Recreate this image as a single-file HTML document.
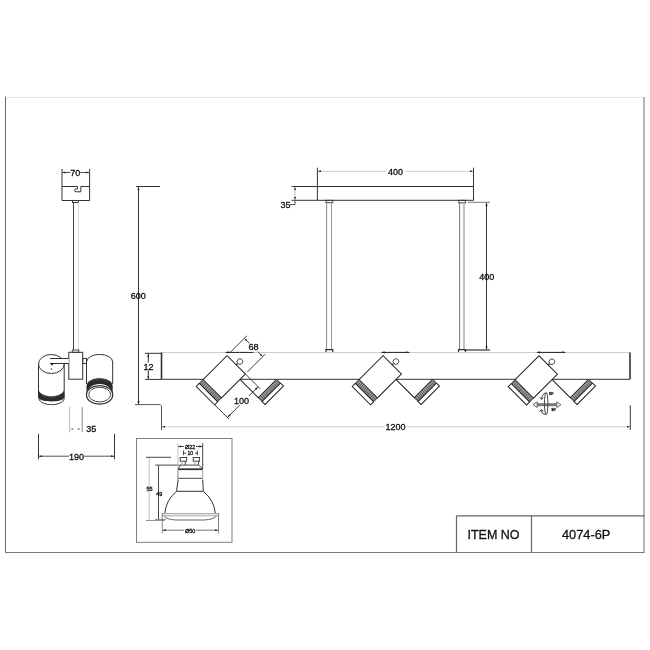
<!DOCTYPE html>
<html><head><meta charset="utf-8">
<style>
html,body{margin:0;padding:0;background:#fff;width:650px;height:650px;overflow:hidden}
svg{display:block;will-change:transform}
text{font-family:"Liberation Sans",sans-serif;fill:#111;stroke:#111;stroke-width:0.3}
</style></head>
<body>
<svg width="650" height="650" viewBox="0 0 650 650">
<defs>
  <marker id="ar" viewBox="0 0 6 4" refX="6" refY="2" markerWidth="3.2" markerHeight="2.2" markerUnits="userSpaceOnUse" orient="auto-start-reverse"><path d="M0 0 L6 2 L0 4z" fill="#222"/></marker>
  <g id="lampA">
    <rect x="-13" y="-17" width="26" height="34" fill="#fff" stroke="#1a1a1a" stroke-width="0.95"/>
    <rect x="-13" y="17" width="26" height="5.3" fill="#a0a0a0" stroke="#222" stroke-width="0.85"/>
    <line x1="-12.6" y1="19.65" x2="12.6" y2="19.65" stroke="#555" stroke-width="4.4" stroke-dasharray="0.9,1.1"/>
    <line x1="-12.6" y1="18.3" x2="12.6" y2="18.3" stroke="#ccc" stroke-width="0.6" stroke-dasharray="0.9,1.1" stroke-dashoffset="1"/>
    <rect x="-13" y="22.3" width="26" height="4.3" fill="#fff" stroke="#1a1a1a" stroke-width="0.95"/>
    <line x1="0" y1="-17" x2="0" y2="-18.6" stroke="#222" stroke-width="1.4"/>
    <circle cx="0.3" cy="-21.9" r="2.8" fill="#fff" stroke="#222" stroke-width="0.8"/>
  </g>
  <g id="lampB">
    <rect x="-13" y="-17" width="26" height="34" fill="#fff" stroke="#1a1a1a" stroke-width="0.95"/>
    <rect x="-13" y="17" width="26" height="5.3" fill="#a0a0a0" stroke="#222" stroke-width="0.85"/>
    <line x1="-12.6" y1="19.65" x2="12.6" y2="19.65" stroke="#555" stroke-width="4.4" stroke-dasharray="0.9,1.1"/>
    <line x1="-12.6" y1="18.3" x2="12.6" y2="18.3" stroke="#ccc" stroke-width="0.6" stroke-dasharray="0.9,1.1" stroke-dashoffset="1"/>
    <rect x="-13" y="22.3" width="26" height="4.3" fill="#fff" stroke="#1a1a1a" stroke-width="0.95"/>
  </g>
</defs>

<!-- frame -->
<line x1="5.5" y1="96.5" x2="5.5" y2="552.5" stroke="#666" stroke-width="1"/>
<line x1="7" y1="97.5" x2="644.5" y2="97.5" stroke="#e6e6e6" stroke-width="1"/>
<line x1="644" y1="97" x2="644" y2="552.5" stroke="#777" stroke-width="1.1"/>
<line x1="5" y1="552.5" x2="644.5" y2="552.5" stroke="#777" stroke-width="1"/>

<!-- ===== side view ===== -->
<g stroke="#333" stroke-width="1" fill="none">
  <line x1="62" y1="169" x2="62" y2="200.5"/>
  <line x1="89.6" y1="169" x2="89.6" y2="200.5"/>
  <path d="M62 186.5 H77.5 V188.9 H76 Q74.6 188.9 74.6 190.3 Q74.6 191.8 76 191.8 H80.8 V186.5 H89.6"/>
  <line x1="62" y1="200.5" x2="89.6" y2="200.5"/>
  <line x1="70.5" y1="172.5" x2="62.3" y2="172.5" stroke="#444" stroke-width="0.9" marker-end="url(#ar)"/>
  <line x1="80.2" y1="172.5" x2="89.3" y2="172.5" stroke="#444" stroke-width="0.9" marker-end="url(#ar)"/>
  <rect x="72.5" y="200.5" width="6" height="2" stroke-width="1"/>
  <line x1="73.5" y1="202.5" x2="73.5" y2="350"  stroke="#444"/>
  <line x1="78.5" y1="202.5" x2="78.5" y2="350" stroke="#ddd"/>
  <rect x="72.3" y="350" width="6.5" height="2.3" stroke-width="0.9"/>
  <rect x="68.8" y="352.3" width="13.9" height="26.9"/>
  <rect x="82.7" y="358.5" width="3.8" height="5"/>
</g>
<text x="75.3" y="175.8" font-size="9" text-anchor="middle">70</text>

<!-- left cylinder -->
<g stroke="#333" stroke-width="1" fill="none">
  <line x1="38.5" y1="364" x2="38.5" y2="398"/>
  <line x1="64.2" y1="364" x2="64.2" y2="398"/>
  <ellipse cx="51.35" cy="364" rx="12.85" ry="9.5" fill="#fff"/>
  <path d="M38.5 389.5 C40 398.5 62.7 398.5 64.2 389.5 V397.8 C62.7 402.7 40 402.7 38.5 397.8 Z" fill="#2a2a2a" stroke="none"/>
  <path d="M42 395.2 Q51.35 399.5 60.7 395.2" stroke="#777" stroke-width="0.8" stroke-dasharray="1,1.2"/>
  <path d="M38.8 398.5 C40.5 406.7 62.5 406.7 64.3 398.5" stroke-width="1"/>
  <rect x="50" y="358.5" width="18.8" height="5" fill="#fff" stroke="none"/>
  <line x1="50" y1="358.5" x2="68.8" y2="358.5"/>
  <line x1="50" y1="363.5" x2="68.8" y2="363.5"/>
  <circle cx="52" cy="364" r="1.2" fill="#222" stroke="none"/>
  <circle cx="51.5" cy="369" r="0.8" fill="#444" stroke="none"/>
</g>
<!-- right cylinder -->
<g stroke="#333" stroke-width="1" fill="none">
  <path d="M86.5 384 L86.5 362 A13.1 7.6 0 0 1 112.7 362 L112.7 384" />
  <path d="M86.5 386 C87.3 375.7 111.9 375.7 112.7 386 L112.7 394 L86.5 394 Z" fill="#2a2a2a" stroke="none"/>
  <path d="M90 381 Q99.6 378.5 109 381" stroke="#666" stroke-width="0.8" stroke-dasharray="1,1"/>
  <ellipse cx="99.6" cy="394.9" rx="13.1" ry="10.8" fill="#fff" stroke="none"/>
  <ellipse cx="99.6" cy="394.9" rx="13.1" ry="9.3" fill="#fff" stroke-width="1.3"/>
  <ellipse cx="99.7" cy="394.6" rx="11" ry="7.3" stroke-width="0.9"/>
</g>

<!-- 35 / 190 -->
<g stroke="#333" stroke-width="1" fill="none">
  <line x1="69.6" y1="407" x2="69.6" y2="432.3" stroke="#bbb"/>
  <line x1="82.2" y1="407" x2="82.2" y2="432.3" stroke="#888"/>
  <line x1="71.4" y1="429" x2="73.4" y2="429" stroke="#444"/>
  <line x1="77.6" y1="429" x2="79.6" y2="429" stroke="#444"/>
  <line x1="38.5" y1="433.8" x2="38.5" y2="459.2"/>
  <line x1="114.5" y1="433.8" x2="114.5" y2="459.2"/>
  <line x1="69" y1="456.2" x2="38.9" y2="456.2" stroke="#555" marker-end="url(#ar)"/>
  <line x1="84" y1="456.2" x2="114.1" y2="456.2" stroke="#555" marker-end="url(#ar)"/>
</g>
<text x="86.3" y="432.3" font-size="9">35</text>
<text x="76.5" y="460" font-size="9" text-anchor="middle">190</text>

<!-- 600 -->
<g stroke="#333" stroke-width="1" fill="none">
  <line x1="138.5" y1="290" x2="138.5" y2="187" marker-end="url(#ar)"/>
  <line x1="138.5" y1="290" x2="138.5" y2="404.3" marker-end="url(#ar)"/>
  <line x1="136" y1="186.5" x2="160" y2="186.5"/>
  <line x1="135" y1="404.6" x2="160.8" y2="404.6" stroke="#555"/>
  <line x1="161.5" y1="405.5" x2="161.5" y2="430.2" stroke="#555"/>
</g>
<text x="138.2" y="299" font-size="9" text-anchor="middle">600</text>

<!-- ===== front view ===== -->
<g stroke="#333" stroke-width="1" fill="none">
  <line x1="317.4" y1="167.7" x2="317.4" y2="200.3"/>
  <line x1="473.5" y1="167.7" x2="473.5" y2="200.3"/>
  <line x1="291.5" y1="186.5" x2="473.5" y2="186.5"/>
  <line x1="291.5" y1="200.3" x2="473.5" y2="200.3"/>
  <line x1="386" y1="171.3" x2="317.8" y2="171.3" stroke="#ccc" marker-end="url(#ar)"/>
  <line x1="405" y1="171.3" x2="473.1" y2="171.3" stroke="#ccc" marker-end="url(#ar)"/>
  <line x1="295" y1="193" x2="295" y2="187" stroke="#bbb" marker-end="url(#ar)"/>
  <line x1="295" y1="193" x2="295" y2="200" stroke="#bbb" marker-end="url(#ar)"/>
  <line x1="295" y1="200.3" x2="295" y2="204.5" stroke="#555"/>
  <line x1="295" y1="204.5" x2="290" y2="204.5" stroke="#555"/>
  <!-- rods -->
  <rect x="326" y="200.3" width="6.8" height="2.4" stroke-width="0.9"/>
  <line x1="326.6" y1="202.7" x2="326.6" y2="349.7" stroke="#888"/>
  <line x1="331.5" y1="202.7" x2="331.5" y2="349.7" stroke="#999"/>
  <path d="M326 352.5 v-2.8 h6.8 v2.8" stroke-width="1.2"/>
  <rect x="458.8" y="200.3" width="6.6" height="2.6" stroke-width="0.9"/>
  <line x1="459.6" y1="202.9" x2="459.6" y2="349.7" stroke="#777"/>
  <line x1="464" y1="202.9" x2="464" y2="349.7" stroke="#aaa" stroke-width="1.4"/>
  <path d="M458.5 352.5 v-2.8 h7 v2.8" stroke-width="1.2"/>
  <!-- 400 vertical dim -->
  <line x1="468" y1="202.3" x2="490" y2="202.3" stroke="#777"/>
  <line x1="464" y1="350" x2="490" y2="350" stroke-width="1.2"/>
  <line x1="486.5" y1="270" x2="486.5" y2="202.8" marker-end="url(#ar)"/>
  <line x1="486.5" y1="270" x2="486.5" y2="349.5" marker-end="url(#ar)"/>
</g>
<text x="395.6" y="174.8" font-size="9" text-anchor="middle">400</text>
<text x="285.4" y="207.8" font-size="9" text-anchor="middle">35</text>
<text x="486.7" y="279.5" font-size="9" text-anchor="middle">400</text>

<!-- lamps behind bar -->
<use href="#lampB" transform="translate(255.5 376.5) rotate(-45)"/>
<use href="#lampB" transform="translate(411.5 376.5) rotate(-45)"/>
<use href="#lampB" transform="translate(567.5 376.5) rotate(-45)"/>

<!-- bar -->
<rect x="161.5" y="352.5" width="468.5" height="26.8" fill="#fff" stroke="none"/>
<line x1="161.5" y1="352.5" x2="630" y2="352.5" stroke="#ccc" stroke-width="1"/>
<line x1="161.5" y1="379.3" x2="630" y2="379.3" stroke="#333" stroke-width="1"/>
<line x1="161.5" y1="352.5" x2="161.5" y2="379.3" stroke="#333" stroke-width="1.6"/>
<line x1="630" y1="352.5" x2="630" y2="379.3" stroke="#333" stroke-width="1.6"/>
<g stroke="#222" stroke-width="1">
  <line x1="239.5" y1="352.4" x2="225.5" y2="352.4" marker-end="url(#ar)"/><line x1="239.5" y1="352.4" x2="253.5" y2="352.4"/>
  <line x1="395.5" y1="352.4" x2="381.5" y2="352.4" marker-end="url(#ar)"/><line x1="395.5" y1="352.4" x2="409.4" y2="352.4" marker-end="url(#ar)"/>
  <line x1="551" y1="352.4" x2="536.9" y2="352.4" marker-end="url(#ar)"/><line x1="551" y1="352.4" x2="565.2" y2="352.4" marker-end="url(#ar)"/>
</g>

<!-- 12 dim -->
<g stroke="#333" stroke-width="1" fill="none">
  <line x1="145" y1="353.3" x2="161.5" y2="353.3"/>
  <line x1="145" y1="379.4" x2="161.5" y2="379.4"/>
  <line x1="148.3" y1="362.5" x2="148.3" y2="353.8" stroke="#333" marker-end="url(#ar)"/>
  <line x1="148.3" y1="370.5" x2="148.3" y2="378.9" stroke="#333" marker-end="url(#ar)"/>
</g>
<text x="148.5" y="370" font-size="9" text-anchor="middle">12</text>

<!-- lamps front -->
<use href="#lampA" transform="translate(224.2 376.8) rotate(45)"/>
<use href="#lampA" transform="translate(380.2 376.8) rotate(45)"/>
<use href="#lampA" transform="translate(536.2 377) rotate(45)"/>

<!-- 68 & 100 dims (group 1) -->
<g transform="translate(224.2 376.8) rotate(45)" stroke="#333" stroke-width="0.9" fill="none">
  <line x1="-13" y1="-20.5" x2="-13" y2="-45"/>
  <line x1="13" y1="-19.8" x2="13" y2="-45"/>
  <line x1="0" y1="-41.5" x2="-12.6" y2="-41.5" marker-end="url(#ar)"/>
  <line x1="0" y1="-41.5" x2="12.6" y2="-41.5" marker-end="url(#ar)"/>
  <line x1="13" y1="-17" x2="34" y2="-17"/>
  <line x1="13" y1="26.5" x2="33" y2="26.5"/>
  <line x1="31" y1="5" x2="31" y2="-16.6" marker-end="url(#ar)"/>
  <line x1="31" y1="5" x2="31" y2="26.1" marker-end="url(#ar)"/>
</g>
<rect x="247.5" y="343.5" width="11.5" height="8" fill="#fff"/>
<text x="253.4" y="350.4" font-size="9" text-anchor="middle">68</text>
<rect x="233.5" y="396" width="16.5" height="9" fill="#fff"/>
<text x="241.6" y="404" font-size="9" text-anchor="middle">100</text>

<!-- 1200 -->
<g stroke="#333" stroke-width="1" fill="none">
  <line x1="630.3" y1="405.4" x2="630.3" y2="430"/>
  <line x1="385" y1="426.8" x2="162" y2="426.8" stroke="#ccc" marker-end="url(#ar)"/>
  <line x1="406" y1="426.8" x2="629.9" y2="426.8" stroke="#ccc" marker-end="url(#ar)"/>
</g>
<text x="395.6" y="430" font-size="9" text-anchor="middle">1200</text>

<!-- rotation symbol -->
<g stroke="#444" fill="none">
  <line x1="536" y1="404.7" x2="558" y2="404.7" stroke="#7a7a7a" stroke-width="3"/>
  <path d="M533 404.7 l4.2 -2.8 v5.6 z M561 404.7 l-4.2 -2.8 v5.6 z" stroke-width="0.8" fill="#fff"/>
  <ellipse cx="546.2" cy="403.6" rx="1.7" ry="11.3" stroke-width="1"/>
  <path d="M545 393 Q541.5 394.5 541.6 398.8 M539.8 397.2 L541.7 399.6 L543.2 397.6" stroke-width="1"/>
  <path d="M545 414.6 Q541.3 414 541.4 410.2 M539.6 411.8 L541.4 409.4 L543.2 411.6" stroke-width="1"/>
</g>
<text x="549" y="394.5" font-size="3" fill="#bbb" stroke="none">90°</text>
<text x="551.5" y="410.5" font-size="3" fill="#bbb" stroke="none">90°</text>

<!-- ===== inset bulb ===== -->
<rect x="136.5" y="438.5" width="95.5" height="103.8" fill="none" stroke="#808080" stroke-width="1"/>
<g stroke="#333" stroke-width="0.9" fill="none">
  <!-- 55 -->
  <line x1="146" y1="457.3" x2="171" y2="457.3"/>
  <line x1="149.2" y1="458" x2="149.2" y2="520" stroke="#bbb"/>
  <line x1="146" y1="520.5" x2="165" y2="520.5" stroke="#888"/>
  <!-- 49 -->
  <line x1="155.2" y1="465.1" x2="198.7" y2="465.1"/>
  <line x1="158.5" y1="465.5" x2="158.5" y2="519.2"/>
  <line x1="155.2" y1="519.4" x2="166" y2="519.4" stroke="#777"/>
  <!-- Ø22 -->
  <line x1="177.9" y1="443.2" x2="177.9" y2="480" stroke="#bbb"/>
  <line x1="202.7" y1="443.2" x2="202.7" y2="468.6"/>
  <line x1="184" y1="446.5" x2="178.2" y2="446.5" marker-end="url(#ar)"/>
  <line x1="196" y1="446.5" x2="202.4" y2="446.5" marker-end="url(#ar)"/>
  <!-- 10 -->
  <line x1="183.5" y1="450.6" x2="183.5" y2="455.2"/>
  <line x1="197.3" y1="450.6" x2="197.3" y2="455.2"/>
  <line x1="183.5" y1="453.2" x2="186" y2="453.2"/>
  <line x1="195" y1="453.2" x2="197.3" y2="453.2"/>
  <!-- pins -->
  <rect x="180.2" y="457.5" width="6.5" height="3.7"/>
  <line x1="182" y1="461.2" x2="182" y2="465.1" stroke="#999"/>
  <line x1="185.3" y1="461.2" x2="185.3" y2="465.1"/>
  <rect x="193.2" y="457.5" width="6.4" height="3.7"/>
  <line x1="195" y1="461.2" x2="195" y2="465.1" stroke="#999"/>
  <line x1="198.5" y1="461.2" x2="198.5" y2="465.1"/>
  <!-- base -->
  <path d="M180.7 465.1 L178.2 468.8 L202.7 468.8 L198.7 465.1" />
  <line x1="177.9" y1="469.5" x2="202.7" y2="469.5" stroke-width="1.2"/>
  <line x1="177.9" y1="478.3" x2="202.7" y2="478.3"/>
  <line x1="177.9" y1="469.5" x2="177.9" y2="480" stroke="#999"/>
  <line x1="202.7" y1="469.5" x2="202.7" y2="480" stroke="#999"/>
  <path d="M178.1 480 L176.5 491.3 L203.3 491.3 L202.7 480" stroke-width="1"/>
  <path d="M176.3 491.5 Q166 500 164.8 513.5" stroke-width="1"/>
  <path d="M203.5 491.5 Q214 500 215.4 513.5" stroke-width="1"/>
  <rect x="162.7" y="513.5" width="56" height="2.4" stroke="#aaa" fill="#e4e4e4"/>
  <path d="M164.5 515.9 Q166 519.5 176 520 L204 520 Q214 519.5 216.5 515.9" stroke="#555"/>
  <!-- Ø50 -->
  <line x1="162.3" y1="513" x2="162.3" y2="533.4" stroke="#777"/>
  <line x1="218.5" y1="513" x2="218.5" y2="533.4" stroke="#777"/>
  <line x1="184" y1="530.2" x2="162.7" y2="530.2" stroke="#666" marker-end="url(#ar)"/>
  <line x1="196" y1="530.2" x2="218.1" y2="530.2" stroke="#666" marker-end="url(#ar)"/>
</g>
<text x="190.2" y="448.9" font-size="5.5" text-anchor="middle" fill="#333" stroke="none">Ø22</text>
<text x="190.3" y="455.3" font-size="5" text-anchor="middle" fill="#444" stroke="none">10</text>
<text x="149.5" y="491.3" font-size="5.5" text-anchor="middle" fill="#555" stroke="none">55</text>
<text x="159.2" y="496" font-size="5.5" text-anchor="middle" fill="#333" stroke="none">49</text>
<text x="190.2" y="533" font-size="5.5" text-anchor="middle" fill="#333" stroke="none">Ø50</text>

<!-- ===== title block ===== -->
<g stroke="#666" stroke-width="1.2" fill="none">
  <line x1="456.5" y1="515.8" x2="644.5" y2="515.8"/>
  <line x1="456.5" y1="515.8" x2="456.5" y2="552"/>
  <line x1="531.5" y1="515.8" x2="531.5" y2="552"/>
</g>
<text x="493.5" y="538.5" font-size="12.5" text-anchor="middle" stroke="none" fill="#151515">ITEM NO</text>
<text x="586.2" y="538.8" font-size="12.8" text-anchor="middle" stroke="none" fill="#151515">4074-6P</text>
</svg>
</body></html>
